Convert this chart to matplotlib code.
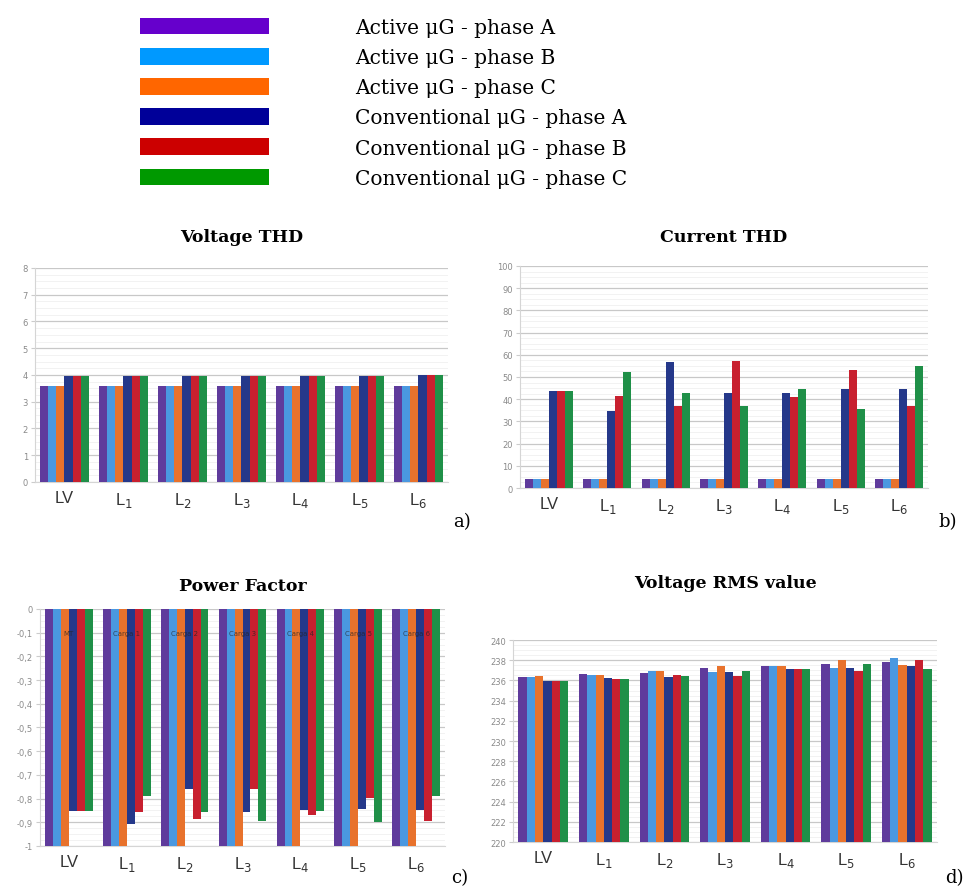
import numpy as np
import matplotlib.pyplot as plt
from matplotlib.patches import Patch
from matplotlib.ticker import FuncFormatter, MultipleLocator

plt.rcParams['mathtext.fontset'] = 'dejavusans'

groups = ['LV', 'L$_1$', 'L$_2$', 'L$_3$', 'L$_4$', 'L$_5$', 'L$_6$']
series = ['Active \u03bcG - phase A', 'Active \u03bcG - phase B', 'Active \u03bcG - phase C',
          'Conventional \u03bcG - phase A', 'Conventional \u03bcG - phase B', 'Conventional \u03bcG - phase C']
legend_colors = ['#6600cc', '#0099ff', '#ff6600', '#000099', '#cc0000', '#009900']
bar_colors = ['#5f3b9c', '#4a98e0', '#e8722c', '#25388a', '#c8202f', '#1f9048']

# Voltage THD (%)
vthd_act_a = [3.6, 3.6, 3.6, 3.6, 3.6, 3.6, 3.6]
vthd_act_b = [3.6, 3.6, 3.6, 3.6, 3.6, 3.6, 3.6]
vthd_act_c = [3.6, 3.6, 3.6, 3.6, 3.6, 3.6, 3.6]
vthd_con_a = [3.95, 3.95, 3.95, 3.95, 3.95, 3.95, 3.98]
vthd_con_b = [3.95, 3.95, 3.95, 3.95, 3.95, 3.95, 3.98]
vthd_con_c = [3.95, 3.95, 3.95, 3.95, 3.95, 3.95, 3.98]

# Current THD (%)
ithd_act_a = [3.9, 3.9, 4.0, 3.9, 3.9, 4.0, 4.0]
ithd_act_b = [3.9, 3.9, 4.0, 3.9, 3.9, 4.0, 4.0]
ithd_act_c = [3.9, 3.9, 4.0, 3.9, 3.9, 4.0, 4.0]
ithd_con_a = [43.5, 34.7, 56.6, 42.9, 42.9, 44.7, 44.4]
ithd_con_b = [43.5, 41.6, 36.8, 57.0, 41.0, 53.0, 36.8]
ithd_con_c = [43.5, 52.4, 42.9, 36.8, 44.4, 35.7, 54.8]

# Power factor
pf_act_a = [-1, -1, -1, -1, -1, -1, -1]
pf_act_b = [-1, -1, -1, -1, -1, -1, -1]
pf_act_c = [-1, -1, -1, -1, -1, -1, -1]
pf_con_a = [-0.852, -0.906, -0.76, -0.856, -0.849, -0.845, -0.85]
pf_con_b = [-0.852, -0.856, -0.887, -0.758, -0.87, -0.796, -0.894]
pf_con_c = [-0.852, -0.789, -0.856, -0.894, -0.852, -0.9, -0.789]
pf_tags = ['MT', 'Carga 1', 'Carga 2', 'Carga 3', 'Carga 4', 'Carga 5', 'Carga 6']

# Voltage RMS (V)
rms_act_a = [236.3, 236.6, 236.7, 237.2, 237.4, 237.6, 237.8]
rms_act_b = [236.3, 236.5, 236.9, 236.8, 237.4, 237.2, 238.25]
rms_act_c = [236.4, 236.5, 236.9, 237.4, 237.4, 238.0, 237.5]
rms_con_a = [235.9, 236.2, 236.3, 236.8, 237.1, 237.2, 237.4]
rms_con_b = [235.9, 236.1, 236.5, 236.45, 237.1, 236.9, 238.0]
rms_con_c = [235.9, 236.1, 236.45, 236.9, 237.1, 237.6, 237.1]

fig = plt.figure(figsize=(9.69, 8.87), dpi=100)

handles = [Patch(facecolor=c, edgecolor='none') for c in legend_colors]
fig.legend(handles, series, loc='upper left', bbox_to_anchor=(0.1445, 0.979),
           frameon=False, prop={'family': 'DejaVu Serif', 'size': 14.5},
           handlelength=6.4, handleheight=0.9, handletextpad=4.27,
           labelspacing=0.54, borderpad=0, borderaxespad=0)

serif = 'DejaVu Serif'


def bar_panel(rect, data, ylim, step, title, title_y, fmt, letter, letter_xy):
    ax = fig.add_axes(rect)
    x = np.arange(len(groups))
    w = 0.137
    for i, vals in enumerate(data):
        ax.bar(x + (i - 2.5) * w, vals, width=w, color=bar_colors[i], linewidth=0, zorder=3)
    ax.set_xlim(-0.5, len(groups) - 0.5)
    ax.set_ylim(*ylim)
    ax.yaxis.set_major_locator(MultipleLocator(step))
    ax.yaxis.set_minor_locator(MultipleLocator(step / 4))
    ax.yaxis.set_major_formatter(FuncFormatter(fmt))
    ax.grid(axis='y', which='major', color='#c8c8c8', linewidth=0.9, zorder=0)
    ax.grid(axis='y', which='minor', color='#f0f0f0', linewidth=0.6, zorder=0)
    ax.set_xticks(x)
    ax.set_xticklabels(groups, fontsize=12, color='#333333', family='Liberation Sans')
    ax.tick_params(axis='x', length=0, pad=6)
    ax.tick_params(axis='y', which='major', labelsize=6, labelcolor='#8a8a8a', length=3, color='#cccccc', pad=2)
    ax.tick_params(axis='y', which='minor', length=0)
    for s in ['top', 'right']:
        ax.spines[s].set_visible(False)
    ax.spines['left'].set_color('#d5d5d5')
    ax.spines['bottom'].set_color('#d5d5d5')
    fig.text(rect[0] + rect[2] / 2, title_y, title, ha='center', va='center',
             family=serif, fontweight='bold', fontsize=12.5)
    fig.text(letter_xy[0], letter_xy[1], letter, ha='left', va='center', family=serif, fontsize=13)
    return ax


def plain(v, pos):
    return '%g' % v


def comma(v, pos):
    return ('%g' % round(v, 2)).replace('.', ',')


bar_panel([0.0361, 0.4555, 0.4262, 0.2413],
          [vthd_act_a, vthd_act_b, vthd_act_c, vthd_con_a, vthd_con_b, vthd_con_c],
          (0, 8), 1, 'Voltage THD', 0.732, plain, 'a)', (0.468, 0.411))

bar_panel([0.5366, 0.4487, 0.4211, 0.2503],
          [ithd_act_a, ithd_act_b, ithd_act_c, ithd_con_a, ithd_con_b, ithd_con_c],
          (0, 100), 10, 'Current THD', 0.732, plain, 'b)', (0.968, 0.411))

axc = bar_panel([0.0413, 0.0451, 0.418, 0.2672],
                [pf_act_a, pf_act_b, pf_act_c, pf_con_a, pf_con_b, pf_con_c],
                (-1, 0), 0.1, 'Power Factor', 0.339, comma, 'c)', (0.466, 0.01))
for i, tag in enumerate(pf_tags):
    axc.text(i, -0.1, tag, ha='center', va='center', fontsize=5, color='#222222',
             alpha=0.7, zorder=4)

bar_panel([0.5294, 0.0496, 0.4376, 0.2277],
          [rms_act_a, rms_act_b, rms_act_c, rms_con_a, rms_con_b, rms_con_c],
          (220, 240), 2, 'Voltage RMS value', 0.342, plain, 'd)', (0.975, 0.01))

fig.savefig('out.png', dpi=100)
